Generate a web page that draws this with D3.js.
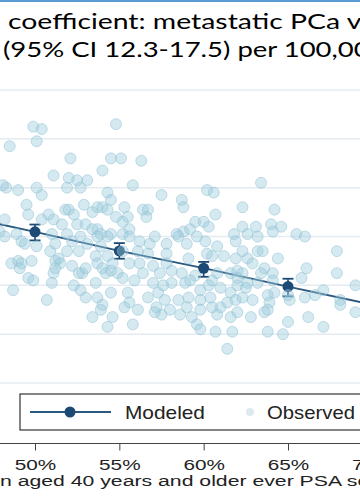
<!DOCTYPE html>
<html>
<head>
<meta charset="utf-8">
<script src="https://cdn.jsdelivr.net/npm/d3@7"></script>
<style>
html,body{margin:0;padding:0;background:#fff;overflow:hidden;}
svg{display:block;}
</style>
</head>
<body>
<svg id="chart" width="360" height="504"></svg>
<script>
// ---------- data ----------
const titleLines = ["coefficient: metastatic PCa vs.", "(95% CI 12.3-17.5) per 100,000"];
const xTickValues = [50, 55, 60, 65, 70];
const yGridValues = [2, 4, 6, 8, 10, 12, 14];
const xAxisTitle = "men aged 40 years and older ever PSA screened";
const legendLabels = ["Modeled", "Observed"];

// modeled estimates with 95% CI
const modeledX = [50, 55, 60, 65];
const modeledY = [8.19, 7.41, 6.70, 5.95];
const modeledLo = [7.84, 7.09, 6.35, 5.55];
const modeledHi = [8.49, 7.73, 6.96, 6.27];
// fitted line
const fitX = [45, 50, 55, 60, 65, 70];
const fitY = [8.94, 8.19, 7.41, 6.70, 5.95, 5.21];

// observed (x = % screened, y = rate per 100,000)
const obsX = [49.9,50.4,50.1,48.5,54.8,52.1,54.5,55.1,56.3,54.0,51.1,52.0,52.5,53.1,52.7,51.9,50.1,49.0,48.1,48.3,
50.4,55.8,54.3,54.5,57.5,58.7,58.8,60.2,60.6,63.4,62.3,64.2,60.7,49.5,49.6,48.2,50.4,50.8,51.1,51.6,
51.8,52.0,52.3,52.9,53.4,53.7,54.0,54.3,54.8,55.3,55.5,55.2,56.4,56.7,56.6,52.5,53.0,53.4,53.7,55.6,
59.5,60.0,60.3,62.3,63.1,64.0,64.6,65.5,61.8,62.6,63.2,66.0,58.8,58.4,59.2,55.2,54.5,51.9,52.7,53.9,
48.9,47.9,48.2,49.2,49.4,50.1,51.0,51.2,50.9,51.9,52.2,53.1,52.6,53.7,53.9,54.3,53.6,54.3,54.6,48.6,
49.0,49.2,49.8,49.1,49.6,49.9,51.2,51.4,51.5,51.2,51.1,52.2,52.8,52.6,53.0,53.7,54.0,54.2,54.5,54.9,
51.0,52.3,52.7,53.6,54.5,53.0,53.7,54.0,53.9,54.6,53.4,54.3,48.7,50.7,55.6,56.2,56.8,57.1,57.8,58.5,
59.0,59.6,60.1,60.8,61.9,55.2,56.1,56.7,57.8,57.8,59.1,60.2,60.5,61.2,61.9,55.6,56.2,57.0,56.4,57.4,
55.2,55.9,58.1,58.7,59.5,59.2,60.8,60.5,61.6,62.0,62.0,57.0,57.6,58.1,58.9,59.8,60.3,61.0,61.6,62.0,
55.5,55.6,56.7,57.3,57.7,58.5,59.1,59.8,60.4,61.0,61.4,61.9,55.3,56.1,57.2,57.5,58.0,59.0,59.8,60.5,
60.8,61.6,62.0,58.6,57.1,59.3,59.6,59.8,55.8,60.7,61.7,61.4,64.1,67.9,62.3,62.6,63.2,63.5,64.4,62.9,
63.6,64.1,63.4,62.3,66.1,67.9,65.8,62.6,63.2,64.1,65.1,66.0,66.6,67.1,62.5,62.9,63.8,63.9,64.2,63.8,
63.6,62.8,62.3,69.0,68.1,69.0,66.2,65.0,67.1,63.8,64.7,65.0,68.1];
const obsY = [12.5,12.4,11.9,11.7,12.6,11.2,11.2,11.2,11.1,10.7,10.5,10.4,10.3,10.3,10.0,10.0,10.0,9.9,10.1,10.0,
9.7,10.1,9.8,9.5,9.7,9.5,9.2,9.9,9.8,10.2,9.2,9.1,8.9,9.3,8.9,8.7,8.7,8.9,8.7,8.5,
9.1,9.1,8.9,9.3,9.0,9.2,9.2,9.1,8.8,9.2,8.8,8.6,9.1,9.1,8.8,8.5,8.5,8.3,8.3,8.3,
8.6,8.6,8.4,8.4,8.4,8.5,8.4,8.1,8.1,8.1,8.0,8.0,8.2,8.1,8.3,8.1,8.1,8.1,8.0,8.1,
8.1,8.2,8.0,7.8,7.7,7.6,8.1,7.7,7.4,7.4,7.8,7.7,7.4,8.0,7.6,8.0,7.2,7.2,6.9,6.9,
7.0,6.9,7.0,6.7,6.3,6.2,7.0,7.1,6.9,6.7,6.5,6.8,6.5,6.5,6.7,6.9,6.7,6.5,6.6,6.5,
6.1,6.0,5.8,6.1,5.7,5.5,5.5,5.2,5.0,4.7,4.7,4.3,5.8,5.4,8.0,7.8,7.7,8.0,7.7,8.0,
7.7,8.0,7.8,7.6,7.8,7.4,7.4,7.3,7.3,6.9,7.1,7.3,7.2,7.2,7.1,6.9,6.9,6.8,6.5,6.5,
6.3,6.2,6.6,6.5,6.4,6.2,6.5,6.2,6.5,6.6,6.3,6.1,6.0,6.1,6.1,5.8,6.0,5.9,5.7,6.0,
5.7,5.3,5.5,5.7,5.4,5.4,5.5,5.4,5.5,5.1,5.3,5.4,5.1,5.0,5.1,4.8,5.0,5.1,5.0,5.1,
4.8,4.7,4.9,4.8,4.9,4.7,4.4,4.2,4.4,4.1,4.1,3.4,8.2,7.4,7.4,7.1,7.4,7.4,7.1,6.9,
6.7,6.5,6.5,6.5,6.7,6.5,6.3,6.1,6.1,6.2,5.4,5.5,5.6,5.8,5.9,5.4,5.6,5.3,5.7,5.0,
4.9,4.7,5.5,6.0,5.4,4.9,4.7,4.5,4.3,4.1,4.0,5.6,5.2];

// ---------- drawing ----------
const svg = d3.select("#chart");
const W = 360, H = 504;

const x = d3.scaleLinear().domain([50, 65]).range([35, 288]);
const y = d3.scaleLinear().domain([2, 14]).range([383, 90]);

svg.append("rect").attr("width", W).attr("height", H).attr("fill", "#fff");

// top accent bar
svg.append("rect").attr("x", 0).attr("y", 0).attr("width", W).attr("height", 2).attr("fill", "#5b9bd5");

// helper: horizontally fit text so that chars [s, s+n) span targetW starting at tx
function fitText(sel, n, targetW, tx, ty, startChar) {
  const node = sel.node();
  const s = startChar || 0;
  const w = node.getSubStringLength(s, n);
  const k = targetW / w;
  const off = s > 0 ? node.getSubStringLength(0, s) * k : 0;
  sel.attr("transform", `translate(${tx - off},${ty}) scale(${k},1)`);
}

// title
const t1 = svg.append("text").text(titleLines[0])
  .attr("font-family", "Lato, 'Open Sans', sans-serif").attr("font-size", 22).attr("fill", "#000");
fitText(t1, "coefficient: metastatic PCa ".length, 339, 8, 29);
const t2 = svg.append("text").text(titleLines[1])
  .attr("font-family", "Lato, 'Open Sans', sans-serif").attr("font-size", 22).attr("fill", "#000");
fitText(t2, "(95% CI 12.3-17.5) per 100,".length, 335, 3, 57);

// gridlines
svg.append("g").selectAll("line").data(yGridValues).join("line")
  .attr("x1", 0).attr("x2", W)
  .attr("y1", d => y(d)).attr("y2", d => y(d))
  .attr("stroke", "#e4ecf1").attr("stroke-width", 1.5);

// modeled line + CI
const navy = "#1d4a74";
const line = d3.line().x((d, i) => x(fitX[i])).y((d, i) => y(fitY[i]));
svg.append("path").datum(fitX).attr("d", line)
  .attr("fill", "none").attr("stroke", "#2a587f").attr("stroke-width", 1.8);

const mg = svg.append("g");
modeledX.forEach((mx, i) => {
  const cx = x(mx);
  mg.append("line").attr("x1", cx).attr("x2", cx).attr("y1", y(modeledHi[i])).attr("y2", y(modeledLo[i]))
    .attr("stroke", navy).attr("stroke-width", 1.6);
  [modeledHi[i], modeledLo[i]].forEach(v => {
    mg.append("line").attr("x1", cx - 5.5).attr("x2", cx + 5.5).attr("y1", y(v)).attr("y2", y(v))
      .attr("stroke", navy).attr("stroke-width", 1.8);
  });
  mg.append("circle").attr("cx", cx).attr("cy", y(modeledY[i])).attr("r", 5.5).attr("fill", navy);
});

// observed points (drawn on top, translucent)
svg.append("g").selectAll("circle").data(obsX).join("circle")
  .attr("cx", d => x(d)).attr("cy", (d, i) => y(obsY[i])).attr("r", 5.5)
  .attr("fill", "#9ccbdc").attr("fill-opacity", 0.42)
  .attr("stroke", "#8dbfd3").attr("stroke-opacity", 0.5).attr("stroke-width", 1);

// legend
const lg = svg.append("g");
lg.append("rect").attr("x", 20).attr("y", 394).attr("width", 400).attr("height", 36)
  .attr("fill", "#fff").attr("stroke", "#333").attr("stroke-width", 1.2);
lg.append("line").attr("x1", 30).attr("x2", 111).attr("y1", 412).attr("y2", 412)
  .attr("stroke", "#2a587f").attr("stroke-width", 2);
lg.append("circle").attr("cx", 70).attr("cy", 412).attr("r", 5.5).attr("fill", navy);
const l1 = lg.append("text").text(legendLabels[0])
  .attr("font-family", "'Liberation Sans', Arial, sans-serif").attr("font-size", 18).attr("fill", "#222");
fitText(l1, legendLabels[0].length, 80, 125, 419);
lg.append("circle").attr("cx", 250).attr("cy", 412).attr("r", 4).attr("fill", "#dbe9f0");
const l2 = lg.append("text").text(legendLabels[1])
  .attr("font-family", "'Liberation Sans', Arial, sans-serif").attr("font-size", 18).attr("fill", "#222");
fitText(l2, legendLabels[1].length, 88, 267, 419);

// x axis
const axY = 443.5;
svg.append("line").attr("x1", 0).attr("x2", W).attr("y1", axY).attr("y2", axY)
  .attr("stroke", "#444").attr("stroke-width", 1);
const ax = svg.append("g").attr("transform", `translate(0,${axY})`)
  .call(d3.axisBottom(x).tickValues(xTickValues).tickFormat(d => d + "%").tickSize(7));
ax.select(".domain").remove();
ax.selectAll(".tick line").attr("stroke", "#444");
ax.selectAll(".tick text")
  .attr("font-family", "'Liberation Sans', Arial, sans-serif").attr("font-size", 14)
  .attr("fill", "#222").attr("y", 27).attr("dy", 0)
  .attr("transform", "scale(1.48,1)");

// x axis title
const xt = svg.append("text").text(xAxisTitle)
  .attr("font-family", "'Liberation Sans', Arial, sans-serif").attr("font-size", 15.5).attr("fill", "#222");
fitText(xt, "n aged 40 years and older ever PSA ".length, 347, 0, 486, 2);
</script>
</body>
</html>
